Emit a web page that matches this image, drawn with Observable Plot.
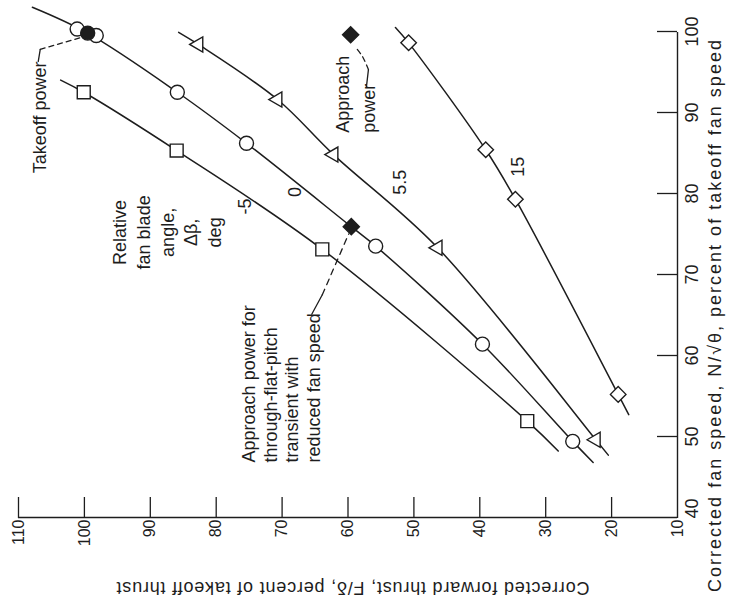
<!DOCTYPE html>
<html><head><meta charset="utf-8">
<script src="https://cdn.jsdelivr.net/npm/d3@7"></script>
<script src="https://cdn.jsdelivr.net/npm/@observablehq/plot@0.6"></script>
<style>
html,body{margin:0;padding:0;background:#fff;}
#wrap{position:relative;width:729px;height:606px;overflow:hidden;background:#fff;}
#rot{position:absolute;left:0;top:0;width:606px;height:729px;transform-origin:0 0;transform:translate(0px,606px) rotate(-90deg);}
</style></head><body>
<div id="wrap"><div id="rot"></div></div>
<script>
// ---- data (corrected fan speed %, corrected forward thrust %) ----
const speedTicks = [40, 50, 60, 70, 80, 90, 100];
const thrustTicks = [10, 20, 30, 40, 50, 60, 70, 80, 90, 100, 110];
const bladeAngles = ["-5", "0", "5.5", "15"];

// measured points (markers)
const speedM5 = [92.5, 85.3, 73.1, 51.9];
const thrustM5 = [100.1, 86.0, 63.9, 32.8];
const speed0 = [100.3, 99.5, 92.5, 86.2, 73.5, 61.4, 49.4];
const thrust0 = [101.1, 98.2, 85.9, 75.4, 55.8, 39.6, 25.9];
const speed55 = [98.4, 91.6, 84.8, 73.3, 49.6];
const thrust55 = [82.7, 70.7, 62.2, 46.4, 22.4];
const speed15 = [98.6, 85.4, 79.3, 55.2];
const thrust15 = [50.8, 39.1, 34.6, 19.0];

// faired curves
const curveSpeedM5 = [94.0, 92.5, 85.3, 73.1, 51.9, 48.2];
const curveThrustM5 = [103.6, 100.1, 86.0, 63.9, 32.8, 28.1];
const curveSpeed0 = [103.0, 99.8, 92.5, 86.2, 75.9, 73.5, 61.4, 49.4, 46.8];
const curveThrust0 = [107.9, 99.5, 85.9, 75.4, 59.5, 55.8, 39.6, 25.9, 22.8];
const curveSpeed55 = [99.9, 98.4, 91.6, 84.8, 73.3, 49.6, 47.7];
const curveThrust55 = [85.7, 82.7, 70.7, 62.2, 46.4, 22.4, 20.5];
const curveSpeed15 = [100.5, 98.6, 85.4, 79.3, 55.2, 52.7];
const curveThrust15 = [52.8, 50.8, 39.1, 34.6, 19.0, 17.4];

// operating points (filled symbols)
const takeoffSpeed = [99.8], takeoffThrust = [99.5];
const approachSpeed = [99.6, 75.9], approachThrust = [59.6, 59.5];

// labels
const xLabel = "Corrected fan speed, N/\u221A\u03B8, percent of takeoff fan speed";
const yLabel = "Corrected forward thrust, F/\u03B4, percent of takeoff thrust";

// ---- helpers ----
const pts = (xs, ys) => xs.map((x, i) => ({x, y: ys[i]}));
const ink = "#1d1d1d";
const W = 606, H = 729, mL = 88, mR = 32, mT = 18, mB = 52;
const font = "'Liberation Sans', Arial, sans-serif";
const narrow = "'Liberation Sans Narrow', 'Liberation Sans', Arial, sans-serif";
const fs = 18;

const curves = [
  pts(curveSpeedM5, curveThrustM5), pts(curveSpeed0, curveThrust0),
  pts(curveSpeed55, curveThrust55), pts(curveSpeed15, curveThrust15)
];
const dotStyle = {x: "x", y: "y", fill: "#fff", stroke: ink, strokeWidth: 1.4};

const chart = Plot.plot({
  width: W, height: H,
  marginLeft: mL, marginRight: mR, marginTop: mT, marginBottom: mB,
  x: {domain: [40, 100]},
  y: {domain: [10, 110]},
  style: {fontFamily: font, fontSize: "16px", color: ink, background: "#fff", overflow: "visible"},
  marks: [
    Plot.ruleY([10], {stroke: ink, strokeWidth: 1.4}),
    Plot.ruleX([40], {stroke: ink, strokeWidth: 1.4}),
    Plot.tickX(speedTicks.slice(1), {x: d => d, insetTop: (H - mT - mB) - 20, stroke: ink, strokeWidth: 1.3}),
    Plot.tickY(thrustTicks.slice(1), {y: d => d, insetRight: (W - mL - mR) - 21, stroke: ink, strokeWidth: 1.3}),
    Plot.axisX(speedTicks.slice(1), {tickSize: 0, tickPadding: 8, label: null, fontSize: 18, fontFamily: narrow}),
    Plot.axisX(speedTicks.slice(0, 1), {tickSize: 0, tickPadding: 8, label: null, fontSize: 18, fontFamily: narrow, dx: 9}),
    Plot.axisY(thrustTicks, {tickSize: 0, tickPadding: 2, label: null, fontSize: 16}),
    Plot.text([xLabel], {text: d => d, x: 65.0, frameAnchor: "bottom", dy: 38, textAnchor: "middle", lineAnchor: "middle", fontSize: 18}),
    Plot.text([yLabel], {text: d => d, y: 59.3, frameAnchor: "left", dx: -70, rotate: -90, textAnchor: "middle", lineAnchor: "middle", fontSize: 18}),

    // faired curves
    ...curves.map(c => Plot.line(c, {x: "x", y: "y", curve: "catmull-rom", stroke: ink, strokeWidth: 1.5})),

    // leaders
    Plot.line(pts([96.3, 97.8], [107.0, 106.7]), {x: "x", y: "y", stroke: ink, strokeWidth: 1.3}),
    Plot.line(pts([97.8, 99.3], [106.7, 100.3]), {x: "x", y: "y", stroke: ink, strokeWidth: 1.3, strokeDasharray: "5,4"}),
    Plot.line(pts([93.2, 95.3], [57.2, 56.9]), {x: "x", y: "y", stroke: ink, strokeWidth: 1.3}),
    Plot.line(pts([95.3, 96.9, 98.1], [56.9, 57.8, 58.9]), {x: "x", y: "y", curve: "catmull-rom", stroke: ink, strokeWidth: 1.3, strokeDasharray: "5,4"}),
    Plot.line(pts([65.1, 67.5], [65.5, 63.9]), {x: "x", y: "y", curve: "catmull-rom", stroke: ink, strokeWidth: 1.3}),
    Plot.line(pts([67.5, 75.0], [63.9, 59.9]), {x: "x", y: "y", stroke: ink, strokeWidth: 1.3, strokeDasharray: "6,5"}),

    // markers
    Plot.dot(pts(speedM5, thrustM5), {...dotStyle, symbol: "square", r: 7.3}),
    Plot.dot(pts(speed0, thrust0), {...dotStyle, symbol: "circle", r: 7}),
    Plot.dot(pts(speed55, thrust55), {...dotStyle, symbol: "triangle", r: 5.6}),
    Plot.dot(pts(speed15, thrust15), {...dotStyle, symbol: "diamond2", r: 7}),
    Plot.dot(pts(takeoffSpeed, takeoffThrust), {...dotStyle, fill: ink, symbol: "circle", r: 7}),
    Plot.dot(pts(approachSpeed, approachThrust), {...dotStyle, fill: ink, symbol: "diamond2", r: 7.3}),

    // annotations
    Plot.text(["Takeoff power"], {text: d => d, x: 96.3, y: 106.7, textAnchor: "end", lineAnchor: "middle", fontSize: fs}),
    Plot.text(["Relative\nfan blade\nangle,\n\u0394\u03B2,\ndeg"], {text: d => d, x: 75.2, y: 87.6, textAnchor: "middle", lineAnchor: "middle", lineHeight: 1.32, fontSize: fs}),
    Plot.text(bladeAngles, {text: d => d, x: [78.4, 80.2, 81.4, 83.3], y: [75.6, 68.0, 52.0, 34.1], textAnchor: "middle", lineAnchor: "middle", fontSize: fs}),
    Plot.text(["Approach\npower"], {text: d => d, x: 87.5, y: 59.2, textAnchor: "start", lineAnchor: "middle", lineHeight: 1.45, fontSize: fs}),
    Plot.text(["Approach power for\nthrough-flat-pitch\ntransient with\nreduced fan speed"], {text: d => d, x: 46.8, y: 70.2, textAnchor: "start", lineAnchor: "middle", lineHeight: 1.2, fontSize: fs})
  ]
});

const sel = d3.select(chart);
sel.selectAll("text").filter(function() { return this.textContent === xLabel; })
  .attr("letter-spacing", "2px");
sel.selectAll("text").filter(function() { return this.textContent === yLabel; })
  .attr("letter-spacing", "0.8px");

document.getElementById("rot").appendChild(chart);
</script></body></html>
